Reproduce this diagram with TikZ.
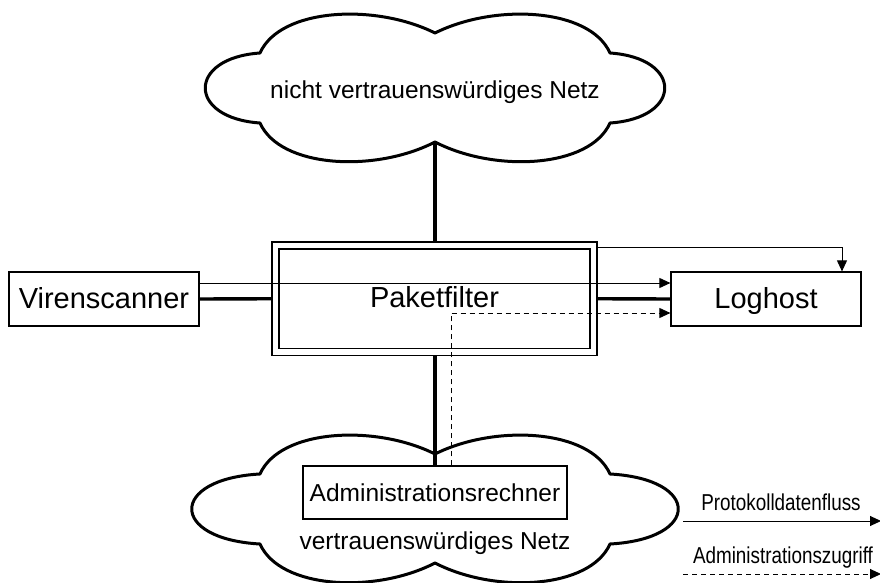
\documentclass[tikz,border=0pt]{standalone}
\usepackage{fontspec}
\setmainfont{Liberation Sans}
\usetikzlibrary{arrows.meta}
\tikzset{box/.style={draw, line width=0.6pt, inner sep=0pt},
  big/.style={font=\fontsize{14.5}{17}\selectfont, text height=10.5pt, text depth=1.5pt},
  mid/.style={font=\fontsize{12.25}{14}\selectfont},
  small/.style={font=\fontsize{11.5}{13}\selectfont, inner sep=0pt},
  trunk/.style={line width=1.7pt},
  proto/.style={line width=0.45pt, -{Triangle[length=5.5pt, width=5pt]}},
  access/.style={proto, dash pattern=on 2.5pt off 2pt},
  cloudline/.style={line width=1.5pt, line join=round}}
\newcommand{\netcloud}[2]{\draw[cloudline, shift={(#1)}] (0,-55) .. controls (-60,-85) and (-155,-80) .. (-175,-35) .. controls (-#2,-30) and (-#2,30) .. (-175,35) .. controls (-155,80) and (-60,85) .. (0,54) .. controls (60,85) and (155,80) .. (175,35) .. controls (#2,30) and (#2,-30) .. (175,-35) .. controls (155,-80) and (60,-85) .. cycle;}

\begin{document}
\begin{tikzpicture}[x=0.5pt, y=-0.5pt]
\useasboundingbox (0,0) rectangle (880,583);
\netcloud{435,88}{248}
\netcloud{435,509}{266}
\node[mid] (wantext) at (435,92) {nicht vertrauenswürdiges Netz};
\node[mid] (lantext) at (435,543) {vertrauenswürdiges Netz};
\coordinate (wan) at (435,142);
\node[box, big, minimum width=95pt, minimum height=27pt] (viren) at (104,299) {Virenscanner};
\node[box, big, double, double distance=2.9pt, outer sep=2.05pt, minimum width=159pt, minimum height=53.25pt] (filter) at (434.5,298.75) {Paketfilter};
\node[box, big, minimum width=95pt, minimum height=27pt] (loghost) at (766,299) {Loghost};
\node[box, mid, minimum width=132pt, minimum height=26.5pt] (admin) at (435,492.5) {Administrationsrechner};
\draw[trunk] (wan) -- (wan |- filter.north);
\draw[trunk] (viren.east) -- (filter.west);
\draw[trunk] (filter.east) -- (loghost.west);
\draw[trunk] (admin.north |- filter.south) -- (admin.north);
\draw[proto] ([yshift=8pt]viren.east) -- ([yshift=8pt]loghost.west);
\draw[proto] ([yshift=-3pt]filter.north east) -| ([xshift=38pt]loghost.north);
\draw[access] ([xshift=8pt]admin.north) |- ([yshift=-7pt]loghost.west);
\coordinate (p1) at (683,521);
\coordinate (p2) at (881,521);
\draw[proto] (p1) -- (p2);
\node[small] (protolabel) at (781,502) {\scalebox{0.82}[1]{Protokolldatenfluss}};
\coordinate (a1) at (683,574);
\coordinate (a2) at (881,574);
\draw[access] (a1) -- (a2);
\node[small] (accesslabel) at (783,558) {\scalebox{0.82}[1]{Administrationszugriff}};
\end{tikzpicture}
\end{document}
